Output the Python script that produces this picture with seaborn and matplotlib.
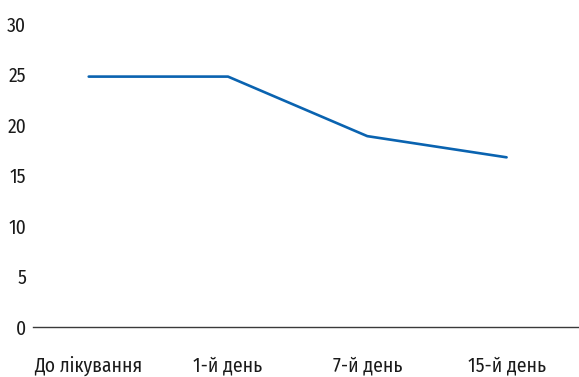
import matplotlib
matplotlib.use("Agg")
import matplotlib.pyplot as plt
import seaborn as sns
import pandas as pd

categories = ["До лікування", "1-й день", "7-й день", "15-й день"]
values = [24.8, 24.8, 18.9, 16.8]
yticks = [0, 5, 10, 15, 20, 25, 30]

sns.set_theme(style="white")
plt.rcParams["font.family"] = ["Fira Sans Condensed", "DejaVu Sans"]

df = pd.DataFrame({"cat": categories, "val": values, "x": range(len(categories))})

fig = plt.figure(figsize=(5.79, 3.77), dpi=100)
ax = fig.add_axes([0.057, 0.133, 0.943, 0.803])
sns.lineplot(data=df, x="x", y="val", ax=ax, color="#0a63b0", linewidth=1.9)
ax.set_xlim(-0.4, 3.52)
ax.set_ylim(0, 30)
ax.set_yticks(yticks)
ax.set_yticklabels([str(t) for t in yticks])
ax.set_xticks(df["x"])
ax.set_xticklabels(categories)
ax.set_xlabel("")
ax.set_ylabel("")
for s in ["left", "right", "top"]:
    ax.spines[s].set_visible(False)
ax.spines["bottom"].set_color("#3a3a3a")
ax.spines["bottom"].set_linewidth(1.0)
ax.tick_params(axis="both", length=0, labelsize=14, colors="#1a1a1a")
ax.tick_params(axis="y", pad=5)
ax.tick_params(axis="x", pad=21)
ax.grid(False)
fig.savefig("out.png", dpi=100)
